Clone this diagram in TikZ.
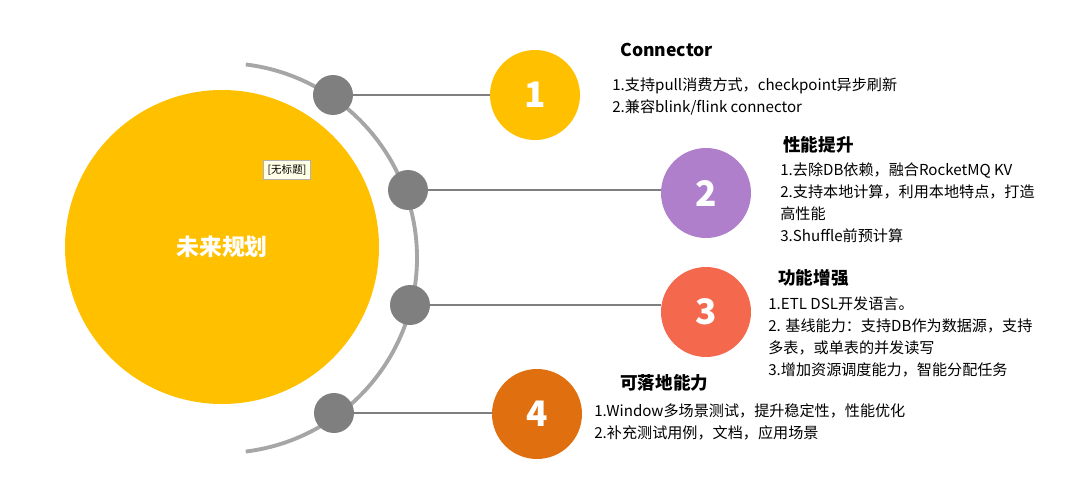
\documentclass[tikz,border=0pt]{standalone}
\usepackage{fontspec}
\setmainfont{Noto Sans CJK SC}
\usetikzlibrary{positioning}
\definecolor{sunyellow}{HTML}{FFC000}
\definecolor{dotgray}{HTML}{7F7F7F}
\definecolor{arcgray}{HTML}{A6A6A6}
\definecolor{numpurple}{HTML}{B07FCC}
\definecolor{numred}{HTML}{F4684E}
\definecolor{numorange}{HTML}{E0700F}
\tikzset{
  dot/.style={circle, fill=dotgray, minimum size=40*0.02cm, inner sep=0pt},
  num/.style={circle, minimum size=90*0.02cm, inner sep=0pt, text=white, font=\fontsize{20}{20}\selectfont\bfseries},
  head/.style={anchor=west, inner sep=0pt, font=\fontsize{10}{12}\selectfont\bfseries},
  body/.style={anchor=north west, inner sep=0pt, align=left, font=\fontsize{8.6}{12.6}\selectfont}
}
\begin{document}
\begin{tikzpicture}[x=0.02cm, y=-0.02cm]
                \useasboundingbox (0,0) rectangle (1080,480);
                \node[circle, fill=sunyellow, minimum size=314*0.02cm, inner sep=0pt, text=white,
                    font=\fontsize{13}{13}\selectfont\bfseries] (core) at (222,247) {未来规划};
                \coordinate (c) at (222,258);
                \draw[arcgray, line width=2.2pt] ([shift={(83:195*0.02cm)}]c) arc[start angle=83, end angle=-83, radius=195*0.02cm];
                \node[dot] (s1) at (333,95) {};
                \node[dot] (s2) at (408,190) {};
                \node[dot] (s3) at (410,305) {};
                \node[dot] (s4) at (334,413) {};
                \node[num, fill=sunyellow] (n1) at (535,95) {1};
                \node[num, fill=numpurple] (n2) at (706,193) {2};
                \node[num, fill=numred] (n3) at (706,312) {3};
                \node[num, fill=numorange] (n4) at (537,414) {4};
                \draw[dotgray, line width=0.8pt] (s1) -- (s1 -| n1.west);
                \draw[dotgray, line width=0.8pt] (s2) -- (s2 -| n2.west);
                \draw[dotgray, line width=0.8pt] (s3) -- (s3 -| n3.west);
                \draw[dotgray, line width=0.8pt] (s4) -- (s4 -| n4.west);
                \node[draw=gray!60, fill=yellow!10, inner sep=2.5pt, font=\fontsize{6}{6}\selectfont] (tag) at (287,170) {[无标题]};
                % texts
                \node[head] (h1) at (620,50) {Connector};
                \node[body] (t1) at (612,77) {1.支持pull消费方式，checkpoint异步刷新\\2.兼容blink/flink connector};
                \node[head] (h2) at (783,145) {性能提升};
                \node[body] (t2) at (780,162) {1.去除DB依赖，融合RocketMQ KV\\2.支持本地计算，利用本地特点，打造\\高性能\\3.Shuffle前预计算};
                \node[head] (h3) at (778,278) {功能增强};
                \node[body] (t3) at (768,296) {1.ETL DSL开发语言。\\2. 基线能力：支持DB作为数据源，支持\\多表，或单表的并发读写\\3.增加资源调度能力，智能分配任务};
                \node[head] (h4) at (620,383) {可落地能力};
                \node[body] (t4) at (594,403) {1.Window多场景测试，提升稳定性，性能优化\\2.补充测试用例，文档，应用场景};
            \end{tikzpicture}
\end{document}
